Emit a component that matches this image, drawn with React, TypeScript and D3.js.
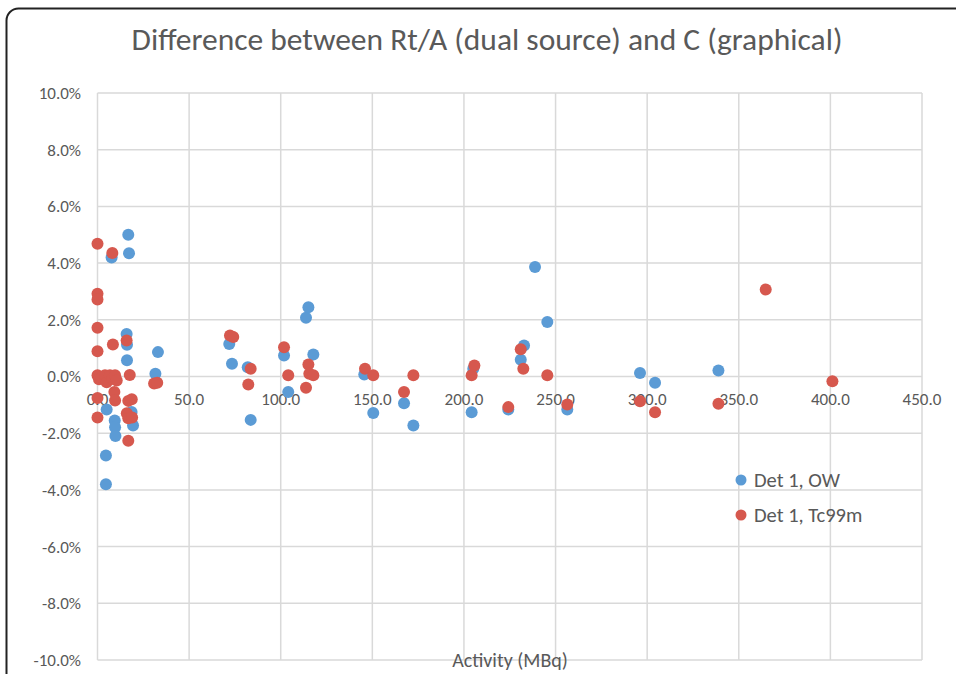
import React from "react";
import * as d3 from "d3";

const title = "Difference between Rt/A (dual source) and C (graphical)";
const xAxisTitle = "Activity (MBq)";
const xTicks = [0, 50, 100, 150, 200, 250, 300, 350, 400, 450];
const yTicks = [-10, -8, -6, -4, -2, 0, 2, 4, 6, 8, 10];
const seriesNames = ["Det 1, OW", "Det 1, Tc99m"];
const seriesColors = ["#5B9BD5", "#D6584E"];

// Det 1, OW (blue)
const owX = [16.8, 7.7, 17.2, 15.9, 16.1, 16.1, 33.0, 31.6, 5.0, 9.4, 9.6, 9.8, 4.6, 4.6, 18.6, 19.4,
  71.9, 73.4, 82.0, 83.6, 101.8, 104.1, 113.8, 115.1, 117.8, 145.6, 150.5, 167.3, 172.4,
  204.2, 205.1, 224.2, 231.0, 232.8, 238.8, 245.5, 256.4, 296.1, 304.3, 338.9];
const owY = [5.0, 4.2, 4.35, 1.5, 1.12, 0.57, 0.86, 0.1, -1.16, -1.55, -1.79, -2.1, -2.79, -3.8, -1.25, -1.73,
  1.15, 0.45, 0.33, -1.53, 0.74, -0.55, 2.07, 2.44, 0.78, 0.07, -1.29, -0.94, -1.73,
  -1.26, 0.27, -1.16, 0.59, 1.09, 3.86, 1.92, -1.16, 0.12, -0.22, 0.21];

// Det 1, Tc99m (red)
const tcX = [0, 8.1, 0, 0, 0, 8.4, 15.9, 0, 0, 0.8, 2.2, 4.1, 5.0, 6.8, 8.2, 9.6, 10.5, 17.6,
  9.2, 9.6, 0, 16.8, 18.7, 0, 16.0, 16.8, 18.9, 16.8, 30.9, 32.6,
  72.3, 74.1, 82.3, 83.6, 101.8, 104.1, 113.8, 115.1, 115.6, 117.8, 146.0, 150.5, 167.3, 172.4,
  204.2, 205.7, 224.2, 231.0, 232.4, 245.5, 256.4, 296.1, 304.3, 338.9, 364.7, 401.1];
const tcY = [4.68, 4.36, 2.92, 2.72, 1.72, 1.13, 1.27, 0.89, 0.04, -0.1, -0.03, 0.04, -0.2, 0.04, -0.08, 0.04, -0.14, 0.05,
  -0.55, -0.85, -0.76, -0.86, -0.8, -1.45, -1.3, -1.47, -1.45, -2.27, -0.25, -0.22,
  1.45, 1.39, -0.28, 0.27, 1.03, 0.04, -0.4, 0.42, 0.1, 0.04, 0.27, 0.04, -0.55, 0.04,
  0.04, 0.39, -1.08, 0.96, 0.27, 0.04, -0.99, -0.87, -1.26, -0.96, 3.07, -0.17];

const W = 956;
const H = 674;
const plot = { left: 97.5, right: 922, top: 93, bottom: 660 };
const FONT = "Carlito, Calibri, Lato, 'Liberation Sans', sans-serif";

const locale = d3.formatLocale({
  decimal: ".",
  thousands: ",",
  grouping: [3],
  currency: ["", ""],
  minus: "-",
});

export default function App() {
  const x = d3.scaleLinear().domain([0, 450]).range([plot.left, plot.right]);
  const y = d3.scaleLinear().domain([-10, 10]).range([plot.bottom, plot.top]);
  const fmtX = locale.format(".1f");
  const fmtY = (v: number) => locale.format(".1f")(v) + "%";

  const series = [
    { xs: owX, ys: owY, color: seriesColors[0] },
    { xs: tcX, ys: tcY, color: seriesColors[1] },
  ];

  return (
    <svg
      width={W}
      height={H}
      style={{ position: "absolute", left: 0, top: 0, background: "#fff" }}
      fontFamily={FONT}
    >
      <rect x={0} y={0} width={W} height={H} fill="#fff" />
      <rect x={6.5} y={8.5} width={W + 40} height={H + 40} rx={12} fill="#fff" stroke="#222" strokeWidth={2} />
      <text x={487} y={50} textAnchor="middle" fontSize={31.5} fill="#595959">
        {title}
      </text>
      {/* gridlines */}
      {yTicks.map((t) => (
        <line key={"gy" + t} x1={plot.left} x2={plot.right} y1={y(t)} y2={y(t)} stroke="#d9d9d9" strokeWidth={1.5} />
      ))}
      {xTicks.map((t) => (
        <line key={"gx" + t} x1={x(t)} x2={x(t)} y1={plot.top} y2={plot.bottom} stroke="#d9d9d9" strokeWidth={1.5} />
      ))}
      {/* y tick labels */}
      {yTicks.map((t) => (
        <text key={"ly" + t} x={81} y={y(t)} dy="0.35em" textAnchor="end" fontSize={17} fill="#595959">
          {fmtY(t)}
        </text>
      ))}
      {/* x tick labels */}
      {xTicks.map((t) => (
        <text key={"lx" + t} x={x(t)} y={y(0) + 28} textAnchor="middle" fontSize={17} fill="#595959">
          {fmtX(t)}
        </text>
      ))}
      {/* points */}
      {series.map((s, si) =>
        s.xs.map((xv, i) => (
          <circle key={si + "-" + i} cx={x(xv)} cy={y(s.ys[i])} r={6} fill={s.color} />
        ))
      )}
      {/* axis title */}
      <text x={510} y={667} textAnchor="middle" fontSize={20} fill="#595959">
        {xAxisTitle}
      </text>
      {/* legend */}
      {seriesNames.map((n, i) => (
        <g key={"lg" + i} transform={`translate(741,${480 + i * 35})`}>
          <circle cx={0} cy={0} r={5.5} fill={seriesColors[i]} />
          <text x={13} y={0} dy="0.35em" fontSize={20.5} fill="#595959">
            {n}
          </text>
        </g>
      ))}
    </svg>
  );
}
